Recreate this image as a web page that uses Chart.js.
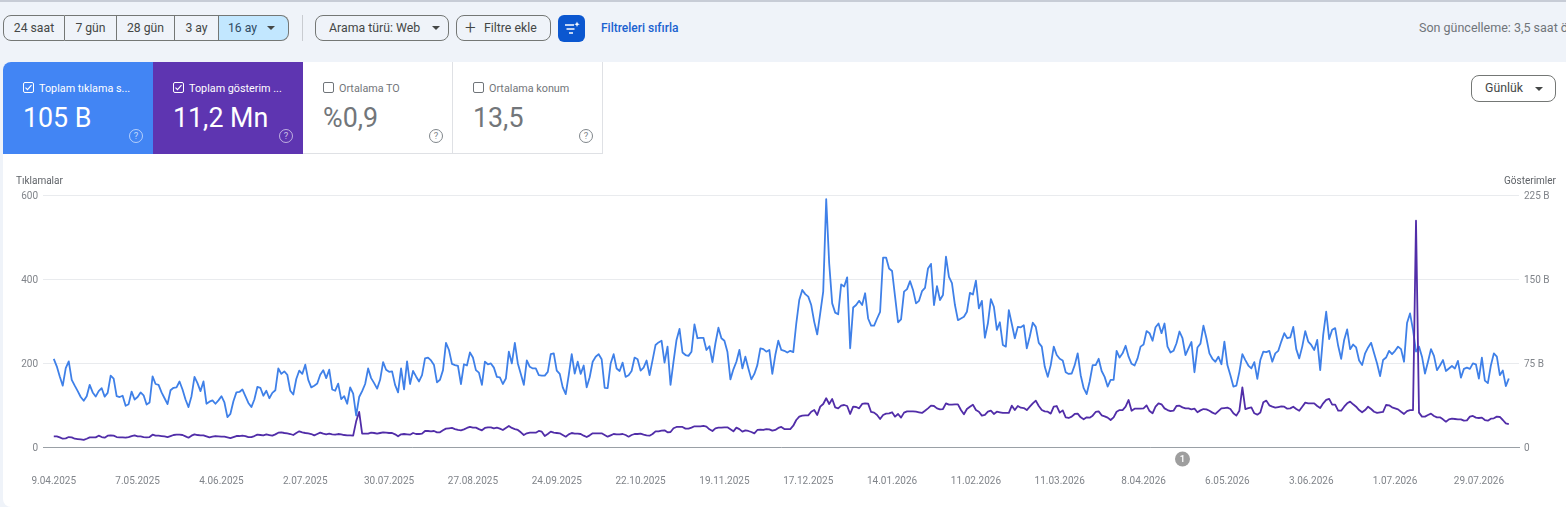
<!DOCTYPE html>
<html lang="tr">
<head>
<meta charset="utf-8">
<title>Performans</title>
<script src="https://cdn.jsdelivr.net/npm/chart.js@4/dist/chart.umd.min.js"></script>
<style>
  html, body { margin: 0; padding: 0; width: 1566px; height: 507px; overflow: hidden; background: #eff3f9; font-family: Roboto, sans-serif; color: #444746; }
  .abs { position: absolute; box-sizing: border-box; white-space: nowrap; }
  #topline { left: 0; top: 0; width: 1566px; height: 2px; background: #c7ccd6; }
  #panel { left: 3px; top: 62px; width: 1570px; height: 445px; background: #fff; border-radius: 8px; }
  .btn { height: 26px; top: 15px; border: 1px solid #747775; border-radius: 8px; font-size: 12.3px; line-height: 24px; color: #444746; }
  .seg { top: 15px; height: 26px; text-align: center; font-size: 12.2px; line-height: 24px; border: 1px solid #747775; border-left: none; }
  .caret { position: absolute; width: 0; height: 0; border-left: 4px solid transparent; border-right: 4px solid transparent; border-top: 4px solid #444746; }
  .card { top: 62px; width: 150px; height: 92px; }
  .card.off { border-right: 1px solid #dfe1e5; border-bottom: 1px solid #dfe1e5; background: #fff; color: #72767a; }
  .card .lbl { position: absolute; left: 36px; top: 20px; font-size: 10.8px; line-height: 14px; }
  .card .val { position: absolute; left: 20px; top: 40px; font-size: 26.8px; line-height: 32px; }
  .card .box { position: absolute; left: 20px; top: 20px; width: 11px; height: 11px; box-sizing: border-box; border: 1px solid #fff; border-radius: 2px; }
  .card.off .box { border-color: #70757a; }
  .card .help { position: absolute; left: 126px; top: 67px; width: 14px; height: 14px; box-sizing: border-box; border: 1px solid rgba(255,255,255,.6); border-radius: 50%; font-size: 9.5px; line-height: 12px; text-align: center; color: rgba(255,255,255,.7); }
  .card.off .help { border-color: #80868b; color: #80868b; }
  .axis-title { top: 175px; font-size: 10px; line-height: 12px; color: #5f6368; }
  #chartWrap { left: 0; top: 170px; width: 1566px; height: 337px; }
</style>
</head>
<body>
<div class="abs" id="topline"></div>

<div class="abs seg" style="left:3px;width:62px;border-left:1px solid #747775;border-radius:8px 0 0 8px">24 saat</div>
<div class="abs seg" style="left:65px;width:52px">7 gün</div>
<div class="abs seg" style="left:117px;width:58px">28 gün</div>
<div class="abs seg" style="left:175px;width:44px">3 ay</div>
<div class="abs seg" style="left:219px;width:70px;border-radius:0 8px 8px 0;background:#c2e7ff;text-align:left;padding-left:9px;color:#2f4a63">16 ay<span class="caret" style="left:48px;top:10px"></span></div>
<div class="abs" style="left:302px;top:15px;width:1px;height:26px;background:#c9ccd1"></div>
<div class="abs btn" style="left:315px;width:134px;padding-left:13px">Arama türü: Web<span class="caret" style="left:116px;top:10px"></span></div>
<div class="abs btn" style="left:456px;width:95px;padding-left:27px"><span style="position:absolute;left:8px;top:0;font-size:19px;font-weight:300">+</span>Filtre ekle</div>
<div class="abs" style="left:558px;top:15px;width:27px;height:27px;border-radius:6px;background:#0b57d0">
  <svg width="27" height="27" viewBox="0 0 27 27"><path d="M7 10h9M8.5 14h8M11 18h4" stroke="#fff" stroke-width="1.5" fill="none"/><path d="M19 6.5l.8 2 2 .8-2 .8-.8 2-.8-2-2-.8 2-.8z" fill="#fff"/></svg>
</div>
<div class="abs" style="left:601px;top:21px;font-size:12px;line-height:14px;font-weight:500;color:#1a62d0">Filtreleri sıfırla</div>
<div class="abs" style="left:1419px;top:20px;font-size:12.5px;line-height:16px;color:#70757a">Son güncelleme: 3,5 saat önce</div>

<div class="abs" id="panel"></div>

<div class="abs card" style="left:3px;background:#4285f4;color:#fff;border-top-left-radius:8px">
  <div class="box"><svg width="9" height="9" viewBox="0 0 9 9" style="display:block"><path d="M1.5 4.6l2 2 4-4.4" stroke="#fff" stroke-width="1.1" fill="none"/></svg></div>
  <div class="lbl">Toplam tıklama s...</div><div class="val">105 B</div><div class="help">?</div>
</div>
<div class="abs card" style="left:153px;background:#5e35b1;color:#fff">
  <div class="box"><svg width="9" height="9" viewBox="0 0 9 9" style="display:block"><path d="M1.5 4.6l2 2 4-4.4" stroke="#fff" stroke-width="1.1" fill="none"/></svg></div>
  <div class="lbl">Toplam gösterim ...</div><div class="val">11,2 Mn</div><div class="help">?</div>
</div>
<div class="abs card off" style="left:303px">
  <div class="box"></div><div class="lbl">Ortalama TO</div><div class="val">%0,9</div><div class="help">?</div>
</div>
<div class="abs card off" style="left:453px">
  <div class="box"></div><div class="lbl">Ortalama konum</div><div class="val">13,5</div><div class="help">?</div>
</div>
<div class="abs btn" style="left:1471px;top:75px;width:85px;height:27px;padding-left:13px;line-height:25px;background:#fff">Günlük<span class="caret" style="left:63px;top:11px"></span></div>

<div class="abs" id="chartWrap"><canvas id="grafico" width="1566" height="337"></canvas></div>
<div class="abs axis-title" style="left:16px">Tıklamalar</div>
<div class="abs axis-title" style="left:1504px">Gösterimler</div>

<script>
// Etiketler: her 28 günde bir
const tickLabels = ['9.04.2025', '7.05.2025', '4.06.2025', '2.07.2025', '30.07.2025', '27.08.2025', '24.09.2025', '22.10.2025',
    '19.11.2025', '17.12.2025', '14.01.2026', '11.02.2026', '11.03.2026', '8.04.2026', '6.05.2026', '3.06.2026', '1.07.2026', '29.07.2026'];

// Tıklamalar, günlük
const clicks = [
    210,192,168,146,188,204,160,146,133,119,
    110,121,148,130,120,133,140,120,129,170,
    163,121,119,122,98,102,132,113,119,130,
    123,101,106,168,150,148,130,116,102,135,
    141,142,156,137,113,95,121,167,152,133,
    156,103,108,111,103,111,121,106,71,79,
    109,130,131,137,121,105,95,113,143,141,
    122,134,116,129,135,187,174,180,172,134,
    125,162,182,174,196,160,142,146,151,172,
    183,164,184,137,134,151,114,121,103,142,
    127,75,119,133,150,187,164,152,139,160,
    202,184,179,180,148,130,187,137,204,150,
    181,168,156,
    171,211,213,206,195,154,160,183,248,231,
    198,195,193,150,197,194,225,213,183,177,
    148,203,197,199,189,167,166,150,163,227,
    199,248,199,174,148,206,191,187,187,171,
    170,170,179,221,223,182,174,142,126,171,
    221,175,203,174,194,142,166,203,215,221,
    209,141,140,199,221,187,181,201,167,171,
    181,213,209,182,189,206,171,207,243,249,
    253,201,239,148,203,255,281,225,219,217,
    227,292,259,260,260,231,240,202,247,284,
    259,253,227,161,185,203,231,187,215,187,
    161,174,195,235,233,227,231,174,219,253,
    231,229,225,229,226,294,
    350,374,364,358,338,298,268,318,370,590,
    437,342,320,316,387,382,404,235,332,338,
    348,338,366,306,289,289,306,322,451,451,
    425,419,358,297,304,370,376,395,374,342,
    348,371,379,425,436,338,383,350,362,453,
    405,390,338,302,306,310,322,367,363,396,
    330,348,260,294,352,334,279,297,243,239,
    326,293,259,286,285,290,235,263,296,286,
    248,239,191,167,195,239,219,210,206,178,
    174,175,195,223,171,140,126,156,195,195,
    210,181,167,144,160,160,229,213,223,241,
    215,198,194,211,239,244,276,271,253,285,
    294,271,294,239,225,229,247,275,
    259,219,235,250,178,237,246,289,259,223,
    210,203,215,197,251,195,171,144,146,179,
    221,207,194,187,202,162,207,227,226,229,
    203,223,229,251,271,259,261,286,233,211,
    239,276,251,243,231,255,183,267,322,257,
    279,283,241,210,255,280,233,244,237,206,
    195,223,237,248,223,199,169,207,213,229,
    221,229,239,233,203,295,318,279,227,239,
    215,175,203,233,217,183,194,207,181,187,
    193,187,205,165,186,189,186,199,197,163,
    213,158,152,194,223,215,171,182,145,163
];

// Gösterimler, günlük (bin)
const impressions = [
    9.5,9.5,8.6,7.4,7.7,8.9,8.6,7.4,7.1,6.8,
    6.3,7.4,8.6,8.6,8.6,10.1,8.9,8.3,10.1,10.4,
    10.1,8.9,8.6,8.6,8.3,8.9,9.8,10.4,9.5,9.5,
    8.9,8.6,8.9,11,10.1,10.1,9.8,9.5,8.9,9.8,
    10.7,11,11,10.7,9.5,8.3,10.1,11.3,10.7,10.4,
    10.4,9.5,8.6,9.2,9.8,9.5,9.2,9.2,8.6,8,
    8.9,9.8,9.8,10.1,9.8,8.9,8.9,9.8,11,10.7,
    10.4,11.3,10.7,10.1,11.3,12.8,13.1,12.5,12.2,11.6,
    10.7,12.5,14,13.1,12.5,12.2,11.6,10.4,11.6,12.8,
    11.9,11.3,11.9,11.3,11,11.6,11.3,10.7,10.4,10.4,
    10.1,22.9,31.3,11.9,11.9,11.9,12.8,12.5,11.9,12.5,
    13.1,12.8,12.5,12.5,11.3,9.5,11.3,11.6,11.3,11,
    12.5,11.6,11.6,
    11.9,14.3,14.3,14,14.3,13.1,13.1,14.9,16.4,16.7,
    17,16,15.2,14.9,15.8,17,17.9,17.3,17.3,16,
    14.9,17,17.6,17.6,16.7,17.3,16.4,15.2,17,18.8,
    17,16,15.2,13.1,10.7,12.2,12.8,12.8,12.8,14.3,
    13.7,9.8,11.6,13.7,12.8,12.5,12.2,10.7,9.2,11.3,
    12.5,11.9,11.9,11.6,10.1,8.9,10.4,12.2,12.2,12.2,
    12.2,10.7,9.2,10.4,11.6,11.3,11.3,11.6,10.7,9.2,
    10.7,11.6,11.6,11.9,11,10.4,10.1,11.6,14,14,
    14.6,14.9,13.1,13.4,16.7,17.9,17.9,17.9,16.4,16.4,
    17.3,18.5,18.5,18.5,18.8,18.2,15.8,14.3,16.7,17.3,
    17.3,17.6,17.6,15.8,14,17.3,16,13.7,14.9,14.3,
    13.4,12.2,15.2,15.5,15.2,16,15.8,14.6,15.2,17,
    17.9,16,16,16,19,24.1,
    27.1,28,28.3,28.3,31.5,33,28.6,36,38.4,43.5,
    38.4,42.9,35.4,34.5,36.9,37.5,36.6,29.5,36,35.7,
    34.5,38.4,39,38.7,31.3,30.7,28.6,25,28.6,29.8,
    30.1,31,27.1,29.5,26.2,30.7,31.8,31.8,31.8,31.5,
    31,30.4,32.4,34.5,36.9,36.6,34.5,33.6,33.9,39,
    37.8,37.8,38.1,38.1,33,29.2,33.9,36,37.8,33,
    31.5,28,28.6,31.5,32.4,29.5,31.5,31,30.4,30.4,
    30.4,36.9,33,36.6,35.1,34.8,33,36,39,41.4,
    36.6,33,31.8,31.5,29.8,36,36.6,30.7,32.7,26.5,
    25.9,27.1,29.5,29.8,26.5,24.7,26.5,26.2,28,31.3,
    31.8,28.3,27.4,26.2,24.1,26.5,31.5,33,33,36,
    42,32.4,34.2,34.2,34.2,34.5,37.2,32.1,30.1,36,
    39,38.1,34.5,33,32.1,32.4,36.6,36.9,
    35.4,34.5,34.5,33.6,34.2,31,32.7,33.9,33.6,32.4,
    30.7,29.5,32.1,34.5,34.8,35.1,33.9,30.1,28,32.4,
    53.3,33.9,34.8,35.4,30.1,28.9,30.7,39.9,41.4,37.2,
    36,35.1,35.7,36.3,36,34.2,34.5,36,33.9,32.4,
    36,39.6,39,39,39,36.6,34.8,39,42,42.9,
    37.8,37.8,32.4,32.4,36,39,40.5,38.1,36,33,
    31,33,36,33.9,31.5,30.4,31,31.3,37.5,37.2,
    35.4,34.5,33.6,31.5,29.5,32.1,33,33,202,30.7,
    27.1,27.1,28.6,29.8,27.7,26.5,26.5,24.7,22.6,24.7,
    25.3,25,24.7,24.7,23.5,23.8,27.1,27.7,26.2,25.9,
    26.2,24.1,23.5,25.3,25.6,27.1,26.8,24.1,21.1,20.5
];

// Not işareti olan gün (gün sırası)
const noteDay = 377;

const toPoints = serie => serie.map((v, i) => ({ x: i, y: v }));

// Alt eksendeki numaralı işaret
const notaPlugin = {
    id: 'nota',
    afterDraw(chart) {
        const ctx = chart.ctx;
        const x = chart.scales.x.getPixelForValue(noteDay);
        const y = chart.chartArea.bottom + 12;
        ctx.save();
        ctx.fillStyle = '#9e9e9e';
        ctx.beginPath();
        ctx.arc(x, y, 7.5, 0, Math.PI * 2);
        ctx.fill();
        ctx.fillStyle = '#fff';
        ctx.font = '500 9.5px Roboto';
        ctx.textAlign = 'center';
        ctx.textBaseline = 'middle';
        ctx.fillText('1', x, y + 0.5);
        ctx.restore();
    }
};

const tickFont = { family: 'Roboto', size: 10 };
const canvas = document.getElementById('grafico');

new Chart(canvas, {
    type: 'line',
    data: {
        datasets: [
            { label: 'Tıklamalar', data: toPoints(clicks), yAxisID: 'y', borderColor: '#3f80e8', borderWidth: 1.8, borderJoinStyle: 'round', pointRadius: 0, tension: 0, order: 2 },
            { label: 'Gösterimler', data: toPoints(impressions), yAxisID: 'y2', borderColor: '#512da8', borderWidth: 1.8, borderJoinStyle: 'round', pointRadius: 0, tension: 0, order: 1 }
        ]
    },
    plugins: [notaPlugin],
    options: {
        responsive: false,
        animation: false,
        layout: { padding: { top: 25, left: 0, right: 0, bottom: 0 } },
        plugins: { legend: { display: false }, tooltip: { enabled: false } },
        scales: {
            x: {
                type: 'linear',
                min: -3.6,
                max: 489.4,
                afterBuildTicks: scale => { scale.ticks = tickLabels.map((l, i) => ({ value: i * 28 })); },
                afterFit: scale => { scale.height = 60; },
                grid: { display: false },
                border: { color: '#9aa0a6', width: 1 },
                ticks: {
                    autoSkip: false,
                    maxRotation: 0,
                    padding: 20,
                    color: '#80848a',
                    font: tickFont,
                    callback: value => tickLabels[value / 28]
                }
            },
            y: {
                position: 'left',
                min: 0,
                max: 600,
                afterFit: scale => { scale.width = 43; },
                grid: { color: '#e9ebee', drawTicks: false },
                border: { display: false },
                ticks: { stepSize: 200, padding: 5, labelOffset: 1, color: '#80848a', font: tickFont }
            },
            y2: {
                position: 'right',
                min: 0,
                max: 225,
                afterFit: scale => { scale.width = 47; },
                grid: { drawOnChartArea: false, drawTicks: false },
                border: { display: false },
                ticks: {
                    stepSize: 75,
                    padding: 5,
                    labelOffset: 1,
                    color: '#80848a',
                    font: tickFont,
                    callback: value => value === 0 ? '0' : value + ' B'
                }
            }
        }
    }
});
</script>
</body>
</html>
